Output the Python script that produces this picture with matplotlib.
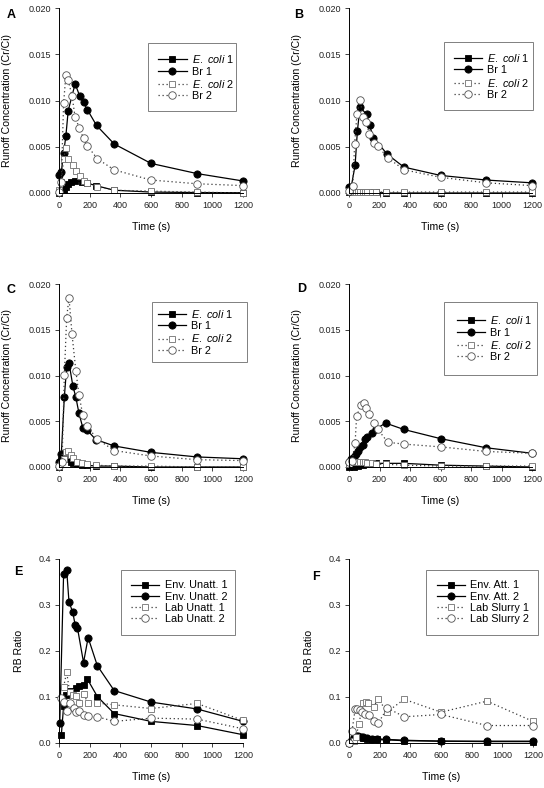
import matplotlib
matplotlib.use('Agg')
import matplotlib.pyplot as plt

plt.rcParams['font.family'] = ['Liberation Sans', 'DejaVu Sans']
plt.rcParams['mathtext.fontset'] = 'custom'
plt.rcParams['mathtext.rm'] = 'Liberation Sans'
plt.rcParams['mathtext.it'] = 'Liberation Sans:italic'

# ---- panel A ----
ecoli1_A_t = [0, 30, 45, 60, 75, 105, 150, 180, 240, 360, 600, 900, 1200]
ecoli1_A = [0.0000, 0.0003, 0.0006, 0.0010, 0.0012, 0.0013, 0.0012, 0.0011,
            0.0008, 0.0003, 0.0001, 0.00005, 0.00003]
br1_A_t = [0, 15, 30, 45, 60, 105, 135, 160, 185, 245, 360, 600, 900, 1200]
br1_A = [0.0019, 0.0023, 0.0043, 0.0062, 0.0089, 0.0118, 0.0105, 0.0098,
         0.0090, 0.0073, 0.0053, 0.0032, 0.0021, 0.0013]
ecoli2_A_t = [0, 15, 30, 45, 60, 90, 110, 135, 160, 185, 245, 360, 600, 900, 1200]
ecoli2_A = [0.0003, 0.0012, 0.0037, 0.0049, 0.0037, 0.0030, 0.0024, 0.0018,
            0.0013, 0.0011, 0.0007, 0.0003, 0.0002, 0.0001, 0.0000]
br2_A_t = [0, 15, 30, 45, 60, 85, 105, 133, 160, 185, 250, 360, 600, 900, 1200]
br2_A = [0.0001, 0.0012, 0.0097, 0.0128, 0.0122, 0.0105, 0.0082, 0.0070,
         0.0059, 0.0051, 0.0037, 0.0025, 0.0014, 0.0010, 0.0008]

# ---- panel B ----
ecoli1_B_t = [0, 30, 45, 60, 75, 90, 105, 120, 150, 180, 240, 360, 600, 900, 1200]
ecoli1_B = [0.0001, 0.0001, 0.0001, 0.0001, 0.0001, 0.0001, 0.0001, 0.0001,
            0.0001, 0.0001, 0.0000, 0.0000, 0.0000, 0.0000, 0.0000]
br1_B_t = [0, 15, 40, 55, 72, 115, 135, 160, 250, 360, 600, 900, 1200]
br1_B = [0.0006, 0.0007, 0.0030, 0.0067, 0.0093, 0.0085, 0.0073, 0.0060,
         0.0042, 0.0028, 0.0019, 0.0014, 0.0011]
ecoli2_B_t = [0, 30, 45, 60, 75, 90, 105, 120, 150, 180, 240, 360, 600, 900, 1200]
ecoli2_B = [0.0002, 0.0001, 0.0001, 0.0001, 0.0001, 0.0001, 0.0001, 0.0001,
            0.0001, 0.0001, 0.0001, 0.0001, 0.0001, 0.0001, 0.0001]
br2_B_t = [0, 25, 37, 52, 74, 90, 113, 133, 164, 190, 253, 363, 600, 900, 1200]
br2_B = [0.0002, 0.0008, 0.0053, 0.0085, 0.0101, 0.0082, 0.0077, 0.0064,
         0.0054, 0.0051, 0.0038, 0.0025, 0.0017, 0.0011, 0.0008]

# ---- panel C ----
ecoli1_C_t = [0, 15, 30, 45, 60, 75, 90, 120, 150, 180, 240, 360, 600, 900, 1200]
ecoli1_C = [0.0000, 0.0008, 0.0013, 0.0014, 0.0009, 0.0006, 0.0004, 0.0003,
            0.0002, 0.0002, 0.0001, 0.0001, 0.0000, 0.0000, 0.0000]
br1_C_t = [0, 15, 35, 50, 65, 90, 110, 130, 155, 185, 240, 360, 600, 900, 1200]
br1_C = [0.0005, 0.0014, 0.0077, 0.0109, 0.0114, 0.0089, 0.0076, 0.0059,
         0.0043, 0.0040, 0.0030, 0.0023, 0.0016, 0.0011, 0.0009]
ecoli2_C_t = [0, 30, 45, 60, 75, 90, 120, 150, 180, 240, 360, 600, 900, 1200]
ecoli2_C = [0.0001, 0.0009, 0.0016, 0.0017, 0.0013, 0.0010, 0.0006, 0.0004,
            0.0003, 0.0002, 0.0001, 0.0001, 0.0000, 0.0000]
br2_C_t = [0, 20, 35, 50, 65, 85, 110, 130, 155, 185, 245, 360, 600, 900, 1200]
br2_C = [0.0001, 0.0006, 0.0101, 0.0163, 0.0185, 0.0145, 0.0105, 0.0079,
         0.0057, 0.0045, 0.0031, 0.0018, 0.0012, 0.0008, 0.0007]

# ---- panel D ----
ecoli1_D_t = [0, 30, 60, 90, 120, 150, 180, 240, 360, 600, 900, 1200]
ecoli1_D = [0.0000, 0.0000, 0.0001, 0.0002, 0.0003, 0.0003, 0.0004, 0.0004,
            0.0004, 0.0002, 0.0001, 0.0000]
br1_D_t = [0, 15, 30, 45, 60, 75, 90, 105, 120, 150, 180, 240, 360, 600, 900, 1200]
br1_D = [0.0006, 0.0009, 0.0011, 0.0014, 0.0018, 0.0022, 0.0024, 0.0031,
         0.0033, 0.0037, 0.0042, 0.0048, 0.0041, 0.0031, 0.0021, 0.0015]
ecoli2_D_t = [0, 30, 45, 60, 75, 90, 105, 120, 150, 180, 240, 360, 600, 900, 1200]
ecoli2_D = [0.0003, 0.0005, 0.0006, 0.0005, 0.0005, 0.0005, 0.0005, 0.0004,
            0.0004, 0.0003, 0.0003, 0.0002, 0.0001, 0.0001, 0.0001]
br2_D_t = [0, 20, 40, 50, 80, 98, 111, 129, 162, 190, 254, 363, 600, 900, 1200]
br2_D = [0.0005, 0.0007, 0.0026, 0.0056, 0.0068, 0.0070, 0.0064, 0.0058,
         0.0048, 0.0041, 0.0027, 0.0025, 0.0022, 0.0017, 0.0015]

# ---- panel E ----
envu1_t = [15, 30, 45, 70, 110, 130, 160, 185, 250, 360, 600, 900, 1200]
envu1 = [0.017, 0.080, 0.105, 0.114, 0.120, 0.125, 0.126, 0.139, 0.101,
         0.064, 0.047, 0.038, 0.018]
envu2_t = [5, 30, 50, 65, 90, 105, 120, 160, 190, 250, 360, 600, 900, 1200]
envu2 = [0.044, 0.367, 0.377, 0.307, 0.284, 0.257, 0.251, 0.175, 0.229,
         0.168, 0.114, 0.089, 0.074, 0.047]
labu1_t = [30, 50, 70, 90, 110, 130, 160, 190, 250, 360, 600, 900, 1200]
labu1 = [0.122, 0.154, 0.110, 0.105, 0.103, 0.088, 0.106, 0.087, 0.087,
         0.083, 0.075, 0.086, 0.049]
labu2_t = [10, 30, 50, 70, 95, 110, 130, 160, 190, 250, 360, 600, 900, 1200]
labu2 = [0.098, 0.090, 0.069, 0.088, 0.076, 0.067, 0.069, 0.060, 0.059,
         0.057, 0.047, 0.054, 0.052, 0.031]

# ---- panel F ----
enva1_t = [0, 30, 60, 90, 105, 120, 150, 180, 240, 360, 600, 900, 1200]
enva1 = [0.000, 0.008, 0.013, 0.011, 0.010, 0.009, 0.009, 0.008, 0.007,
         0.005, 0.004, 0.003, 0.003]
enva2_t = [0, 15, 30, 45, 60, 75, 90, 120, 150, 180, 240, 360, 600, 900, 1200]
enva2 = [0.000, 0.005, 0.012, 0.016, 0.015, 0.013, 0.012, 0.010, 0.009,
         0.008, 0.008, 0.006, 0.004, 0.004, 0.004]
labs1_t = [0, 30, 45, 65, 90, 110, 125, 160, 190, 250, 360, 600, 900, 1200]
labs1 = [0.000, 0.005, 0.013, 0.041, 0.087, 0.090, 0.086, 0.079, 0.095,
         0.068, 0.095, 0.067, 0.091, 0.047]
labs2_t = [0, 20, 40, 55, 70, 85, 105, 130, 160, 190, 250, 360, 600, 900, 1200]
labs2 = [0.000, 0.027, 0.073, 0.074, 0.071, 0.067, 0.063, 0.061, 0.048,
         0.043, 0.076, 0.057, 0.062, 0.038, 0.038]

runoff_labels = [r'$\it{E.\ coli}$ 1', 'Br 1', r'$\it{E.\ coli}$ 2', 'Br 2']
unatt_labels = ['Env. Unatt. 1', 'Env. Unatt. 2', 'Lab Unatt. 1', 'Lab Unatt. 2']
att_labels = ['Env. Att. 1', 'Env. Att. 2', 'Lab Slurry 1', 'Lab Slurry 2']

time_ticks = [0, 200, 400, 600, 800, 1000, 1200]
conc_ticks = [0.000, 0.005, 0.010, 0.015, 0.020]
ratio_ticks = [0.0, 0.1, 0.2, 0.3, 0.4]

W, H = 544, 788
SQ_EDGE = '#707070'
CI_EDGE = '#505050'
DOT = '#3a3a3a'


def px_rect(x0, y0, x1, y1):
    return [x0 / W, 1 - y1 / H, (x1 - x0) / W, (y1 - y0) / H]


def styles():
    return [
        dict(marker='s', ms=4.3, mfc='black', mec='black', color='black',
             ls='-', lw=0.9),
        dict(marker='o', ms=5.2, mfc='black', mec='black', color='black',
             ls='-', lw=0.9),
        dict(marker='s', ms=4.6, mfc='white', mec=SQ_EDGE, color=DOT,
             ls=(0, (1, 2.2)), lw=0.9),
        dict(marker='o', ms=5.4, mfc='white', mec=CI_EDGE, color=DOT,
             ls=(0, (1, 2.2)), lw=0.9),
    ]


def panel(rect, series, labels, ymax, yticks, yfmt, ylabel, leg, ylab_off):
    ax = fig.add_axes(rect)
    for (t, v), lab, st in zip(series, labels, styles()):
        ax.plot(t, v, label=lab, mew=0.6, clip_on=False, **st)
    ax.set_xlim(0, 1200)
    ax.set_ylim(0, ymax)
    ax.set_xticks(time_ticks)
    ax.set_yticks(yticks)
    ax.set_yticklabels([yfmt.format(y) for y in yticks])
    for s in ('top', 'right'):
        ax.spines[s].set_visible(False)
    for s in ('left', 'bottom'):
        ax.spines[s].set_linewidth(0.7)
    ax.tick_params(direction='out', length=3, width=0.6, pad=3,
                   labelsize=6.5, colors='#222222')
    ax.set_xlabel('Time (s)', fontsize=7.6)
    ax.set_ylabel(ylabel, fontsize=7.6)
    ax.xaxis.set_label_coords(0.5, -29 / 185)
    ax.yaxis.set_label_coords(ylab_off, 0.5)
    x0, x1, top, bp = leg
    lg = ax.legend(loc='upper left', bbox_to_anchor=(x0, 0, x1 - x0, top),
                   mode='expand', borderaxespad=0, fontsize=7.8,
                   handlelength=2.6, handletextpad=0.5, labelspacing=0.12,
                   borderpad=bp, numpoints=1, fancybox=False,
                   edgecolor='#808080', framealpha=1)
    lg.get_frame().set_linewidth(0.7)
    return ax


fig = plt.figure(figsize=(W / 100, H / 100), dpi=100)

panel(px_rect(59, 8, 243, 193),
      [(ecoli1_A_t, ecoli1_A), (br1_A_t, br1_A), (ecoli2_A_t, ecoli2_A),
       (br2_A_t, br2_A)],
      runoff_labels, 0.020, conc_ticks, '{:.3f}',
      'Runoff Concentration (Cr/Ci)', (0.484, 0.962, 0.811, 0.95), -47 / 184)
panel(px_rect(349, 8, 532, 193),
      [(ecoli1_B_t, ecoli1_B), (br1_B_t, br1_B), (ecoli2_B_t, ecoli2_B),
       (br2_B_t, br2_B)],
      runoff_labels, 0.020, conc_ticks, '{:.3f}',
      'Runoff Concentration (Cr/Ci)', (0.517, 1.005, 0.818, 0.95), -47 / 183)
panel(px_rect(59, 284, 243, 467),
      [(ecoli1_C_t, ecoli1_C), (br1_C_t, br1_C), (ecoli2_C_t, ecoli2_C),
       (br2_C_t, br2_C)],
      runoff_labels, 0.020, conc_ticks, '{:.3f}',
      'Runoff Concentration (Cr/Ci)', (0.504, 1.02, 0.903, 0.55), -47 / 184)
panel(px_rect(349, 284, 532, 467),
      [(ecoli1_D_t, ecoli1_D), (br1_D_t, br1_D), (ecoli2_D_t, ecoli2_D),
       (br2_D_t, br2_D)],
      runoff_labels, 0.020, conc_ticks, '{:.3f}',
      'Runoff Concentration (Cr/Ci)', (0.52, 1.025, 0.903, 1.15), -47 / 183)
panel(px_rect(59, 559, 243, 743),
      [(envu1_t, envu1), (envu2_t, envu2), (labu1_t, labu1),
       (labu2_t, labu2)],
      unatt_labels, 0.4, ratio_ticks, '{:.1f}', 'RB Ratio',
      (0.335, 0.957, 0.94, 0.95), -35 / 184)
panel(px_rect(349, 559, 533, 743),
      [(enva1_t, enva1), (enva2_t, enva2), (labs1_t, labs1),
       (labs2_t, labs2)],
      att_labels, 0.4, ratio_ticks, '{:.1f}', 'RB Ratio',
      (0.42, 1.025, 0.94, 0.95), -35 / 184)

for letter, x, y in [('A', 11, 15.5), ('B', 299, 15.5), ('C', 11, 290),
                     ('D', 302, 289), ('E', 18, 572), ('F', 316, 577)]:
    fig.text(x / W, 1 - y / H, letter, fontsize=9, fontweight='bold',
             ha='center', va='center')

fig.savefig('out.png', dpi=100)
